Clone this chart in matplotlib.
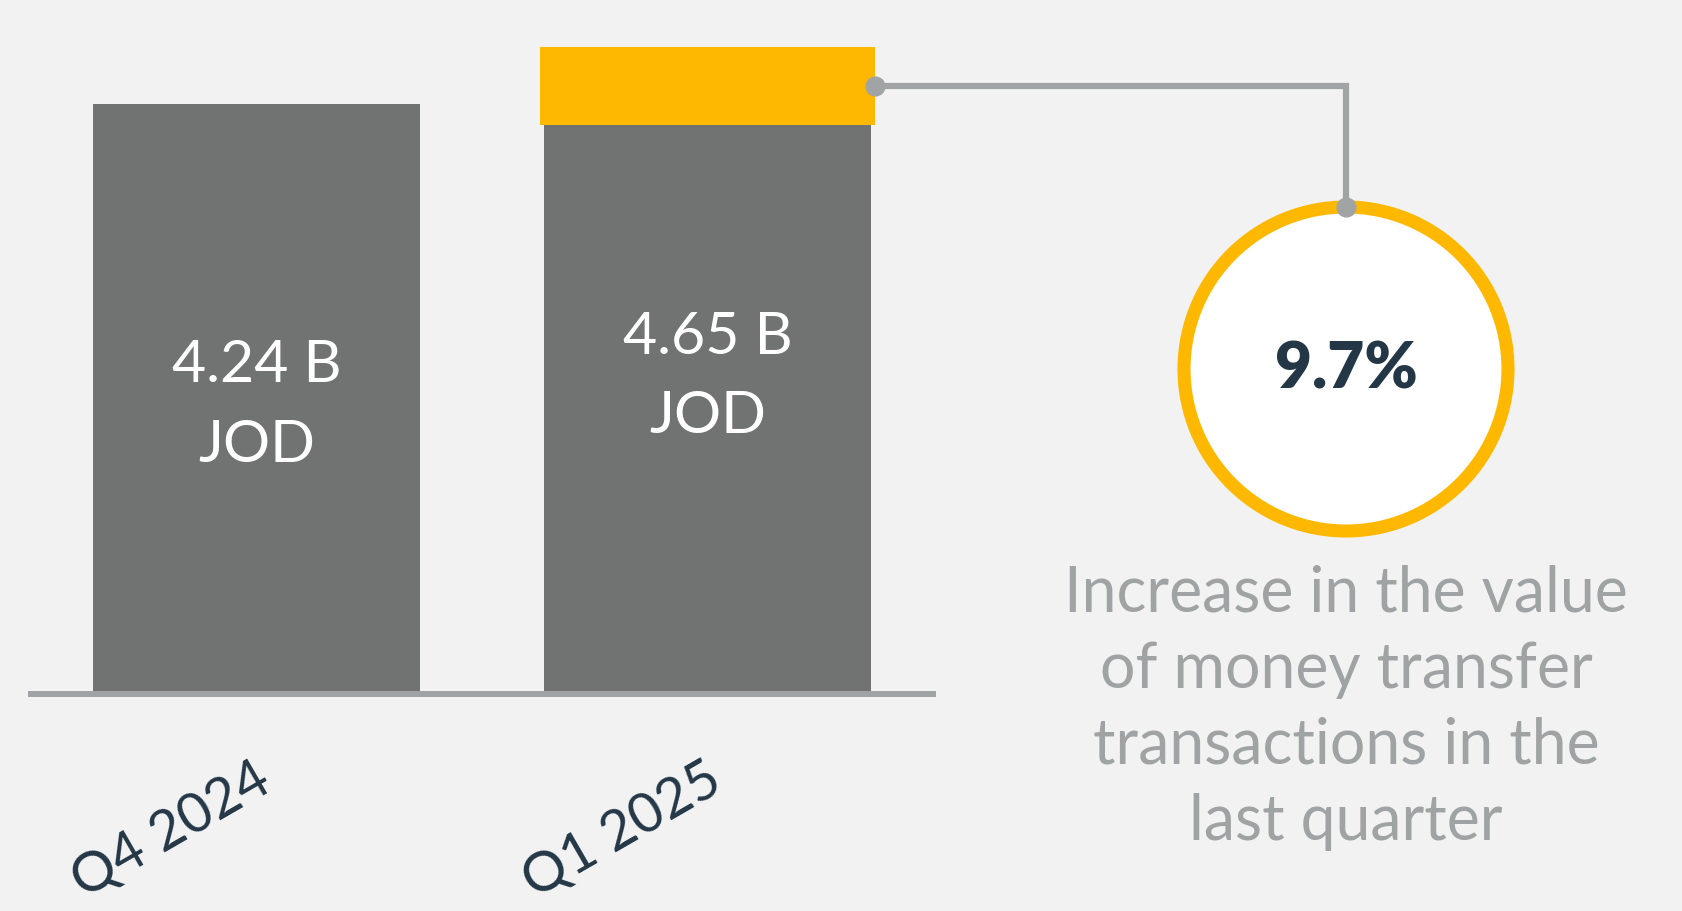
import numpy as np
import matplotlib.pyplot as plt
from matplotlib.patches import Circle

plt.rcParams['font.family'] = ['Lato', 'DejaVu Sans']

# data
quarters = ["Q4 2024", "Q1 2025"]
values = [4.24, 4.65]          # billions JOD
gray_part = [4.24, 4.09]       # gray section of each bar
gold_part = [0.0, 0.56]        # highlighted increase on the second bar
labels = ["4.24 B\nJOD", "4.65 B\nJOD"]
growth = "9.7%"
note = "Increase in the value\nof money transfer\ntransactions in the\nlast quarter"

BG = "#f2f2f2"
BAR = "#717372"
GOLD = "#ffb800"
LINE = "#a0a4a4"
NAVY = "#243746"

W, H = 1682, 912
fig = plt.figure(figsize=(W / 100, H / 100), dpi=100, facecolor=BG)

# bar axes: x 31..933 px, baseline at 695 px from top
ax = fig.add_axes([31 / W, (H - 695) / H, 902 / W, 695 / H])
ax.set_facecolor(BG)
x = np.arange(len(quarters))
ax.bar(x, gray_part, width=0.723, color=BAR, zorder=1)
ax.bar(x[1], gold_part[1], bottom=gray_part[1], width=0.745, color=GOLD, zorder=1)
ax.set_xlim(-0.5, 1.5)
ax.set_ylim(0, 695 / (590 / 4.24))

for s in ["top", "left", "right"]:
    ax.spines[s].set_visible(False)
ax.spines["bottom"].set_color("#9fa3a3")
ax.spines["bottom"].set_linewidth(4.3)
ax.spines["bottom"].set_zorder(3)
ax.set_yticks([])
ax.set_xticks(x)
ax.set_xticklabels([])
ax.tick_params(axis="x", length=0)

for i, (v, lab) in enumerate(zip(values, labels)):
    ax.text(i, v / 2 - 0.04, lab, ha="center", va="center", color="white",
            fontsize=42.5, linespacing=1.62, zorder=4)

for i, q in enumerate(quarters):
    ax.annotate(q, xy=(i, 0), xycoords="data", xytext=(-2, -42),
                textcoords="offset points", ha="right", va="top",
                rotation=30, rotation_mode="anchor", fontsize=40,
                color=NAVY)

# overlay in pixel coordinates for the callout
ov = fig.add_axes([0, 0, 1, 1], facecolor="none")
ov.set_xlim(0, W)
ov.set_ylim(H, 0)
ov.axis("off")

# start point: middle of the gold segment, right edge
fig.canvas.draw()
px, py = ax.transData.transform((1 + 0.745 / 2, gray_part[1] + gold_part[1] / 2))
sx, sy = px, H - py
cx, cy, r = 1346, 370, 162
ov.plot([sx, cx, cx], [sy, sy, cy - r], color=LINE, lw=4.5,
        solid_joinstyle="miter", zorder=2)
ov.add_patch(Circle((cx, cy), r, facecolor="white", edgecolor=GOLD,
                    lw=9.4, zorder=3))
ov.plot([sx, cx], [sy, cy - r], "o", color=LINE, ms=13.5, zorder=5)
ov.text(cx, cy, growth, ha="center", va="center", fontsize=46,
        fontweight="heavy", color=NAVY, zorder=6)
ov.text(cx, 565, note, ha="center", va="top", multialignment="center",
        fontsize=45, color="#9fa3a3", linespacing=1.38)

fig.savefig("out.png", dpi=100, facecolor=BG)
